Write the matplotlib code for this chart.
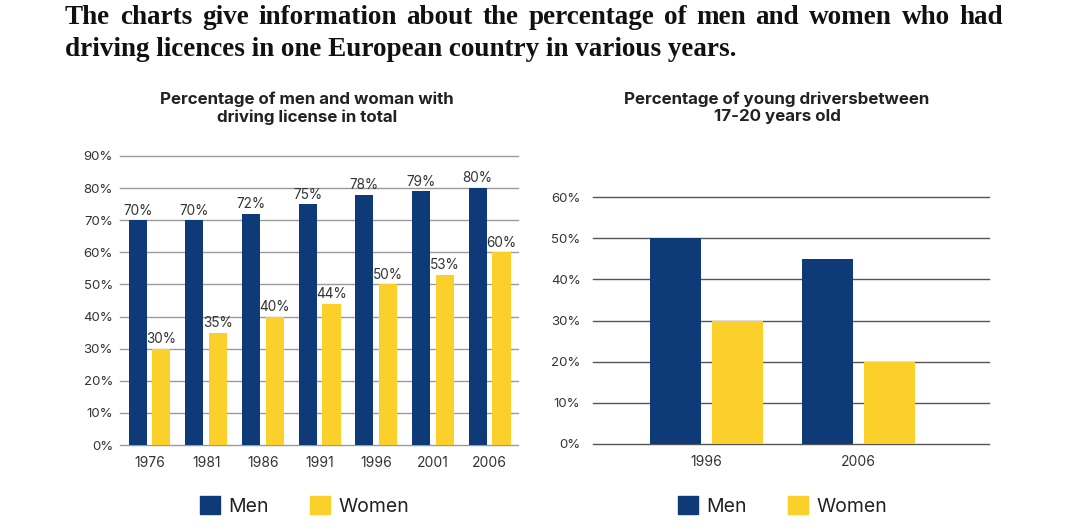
import numpy as np
import matplotlib
matplotlib.use('Agg')
import matplotlib.pyplot as plt
from matplotlib.patches import Patch

plt.rcParams['font.family'] = ['Inter', 'DejaVu Sans']

# data
years_total = ['1976', '1981', '1986', '1991', '1996', '2001', '2006']
men_total = [70, 70, 72, 75, 78, 79, 80]
women_total = [30, 35, 40, 44, 50, 53, 60]

years_young = ['1996', '2006']
men_young = [50, 45]
women_young = [30, 20]

navy = '#0e3a78'
yellow = '#fcd02a'
txt = '#333333'
W, H = 1071, 530

fig = plt.figure(figsize=(W / 100, H / 100), dpi=100)

# heading, first line justified
line1 = 'The charts give information about the percentage of men and women who had'
line2 = 'driving licences in one European country in various years.'
tfont = dict(family='Liberation Serif', weight='bold', size=19.5, color='#111111')
x0, x1 = 65, 1003
renderer = fig.canvas.get_renderer()
words = line1.split()
tmp = [fig.text(0, 0, w, **tfont) for w in words]
widths = [t.get_window_extent(renderer).width for t in tmp]
for t in tmp:
    t.remove()
gap = (x1 - x0 - sum(widths)) / (len(words) - 1)
xx = x0
for w, wd in zip(words, widths):
    fig.text(xx / W, 1 - 24 / H, w, ha='left', va='baseline', **tfont)
    xx += wd + gap
fig.text(x0 / W, 1 - 56 / H, line2, ha='left', va='baseline', **tfont)


def style(ax, gridcol, pad):
    for s in ax.spines.values():
        s.set_visible(False)
    ax.yaxis.grid(True, color=gridcol, lw=1.0)
    ax.set_axisbelow(True)
    ax.tick_params(axis='y', length=0, pad=pad, labelsize=9.5, labelcolor=txt)
    ax.tick_params(axis='x', length=0, pad=8, labelsize=10, labelcolor=txt)
    for g in ax.get_ygridlines():
        g.set_clip_on(False)


# left chart
ax1 = fig.add_axes([120 / W, (H - 445) / H, 398 / W, 289 / H])
x = np.arange(len(years_total))
bw, off = 0.32, 0.21
ax1.bar(x - off, men_total, bw, color=navy)
ax1.bar(x + off, women_total, bw, color=yellow)
for i in range(len(x)):
    ax1.text(x[i] - off, men_total[i] + 3.0, f'{men_total[i]}%', ha='center', va='center',
             fontsize=9.8, color=txt)
    ax1.text(x[i] + off, women_total[i] + 3.0, f'{women_total[i]}%', ha='center', va='center',
             fontsize=9.8, color=txt)
ax1.set_xlim(-0.52, 6.5)
ax1.set_ylim(0, 90)
ax1.set_yticks(range(0, 91, 10))
ax1.set_yticklabels([f'{v}%' for v in range(0, 91, 10)])
ax1.set_xticks(x)
ax1.set_xticklabels(years_total)
style(ax1, '#9a9a9a', 5)
fig.text(307 / W, 1 - 108 / H, 'Percentage of men and woman with\ndriving license in total',
         ha='center', va='center', fontsize=12.2, weight='bold', color='#222222', linespacing=1.2)

# right chart
ax2 = fig.add_axes([593 / W, (H - 444) / H, 396 / W, 247 / H])
x2 = np.arange(len(years_young))
bw2, off2 = 0.335, 0.205
ax2.bar(x2 - off2, men_young, bw2, color=navy)
ax2.bar(x2 + off2, women_young, bw2, color=yellow)
ax2.set_xlim(-0.747, 1.859)
ax2.set_ylim(0, 60)
ax2.set_yticks(range(0, 61, 10))
ax2.set_yticklabels([f'{v}%' for v in range(0, 61, 10)])
ax2.set_xticks(x2)
ax2.set_xticklabels(years_young)
style(ax2, '#555555', 9)
fig.text(777 / W, 1 - 108 / H, 'Percentage of young driversbetween\n17-20 years old',
         ha='center', va='center', fontsize=12.2, weight='bold', color='#222222', linespacing=1.2)

# legends
handles = [Patch(color=navy, label='Men'), Patch(color=yellow, label='Women')]
for cx in (304.5, 782.5):
    fig.legend(handles=handles, loc='center', bbox_to_anchor=(cx / W, 1 - 506 / H), ncol=2,
               frameon=False, fontsize=14, handlelength=1.03, handleheight=1.03,
               handletextpad=0.45, columnspacing=2.1, labelcolor='#222222')

fig.savefig('out.png', dpi=100)
